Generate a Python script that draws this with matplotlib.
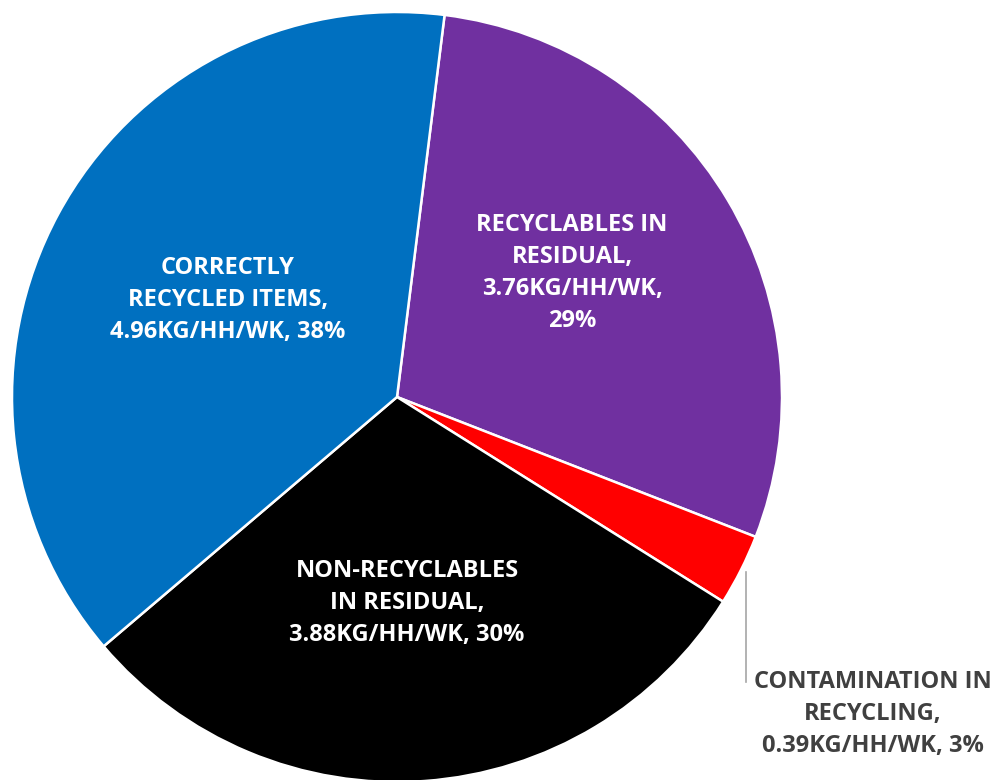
import matplotlib
matplotlib.use("Agg")
from matplotlib import pyplot as plt

# Waste composition, kg per household per week
categories = ["RECYCLABLES IN\nRESIDUAL,", "CONTAMINATION IN\nRECYCLING,",
              "NON-RECYCLABLES\nIN RESIDUAL,", "CORRECTLY\nRECYCLED ITEMS,"]
kg_values = [3.76, 0.39, 3.88, 4.96]
percents = [29, 3, 30, 38]
colors = ["#7030A0", "#FF0000", "#000000", "#0070C0"]

plt.rcParams['font.family'] = ['Open Sans', 'DejaVu Sans']

fig = plt.figure(figsize=(9.97, 7.8), dpi=100)
ax = fig.add_axes([0, 0, 1, 1])

# work in pixel units so the pie sits where the reference has it
cx, cy, r = 397, 780 - 397, 385
wedges, _ = ax.pie(kg_values, colors=colors, startangle=82.9, counterclock=False,
                   center=(cx, cy), radius=r, frame=True,
                   wedgeprops=dict(edgecolor='white', linewidth=1.8))
ax.set_xlim(0, 997)
ax.set_ylim(0, 780)
ax.set_aspect('auto')
ax.axis('off')

labels = [
    "RECYCLABLES IN\nRESIDUAL,\n%.2fKG/HH/WK,\n%d%%" % (kg_values[0], percents[0]),
    "CONTAMINATION IN\nRECYCLING,\n%.2fKG/HH/WK, %d%%" % (kg_values[1], percents[1]),
    "NON-RECYCLABLES\nIN RESIDUAL,\n%.2fKG/HH/WK, %d%%" % (kg_values[2], percents[2]),
    "CORRECTLY\nRECYCLED ITEMS,\n%.2fKG/HH/WK, %d%%" % (kg_values[3], percents[3]),
]
label_pos = [(572, 780 - 273), (873, 780 - 714), (407, 780 - 603), (228, 780 - 300)]
label_colors = ['white', '#404040', 'white', 'white']

for text, (x, y), c in zip(labels, label_pos, label_colors):
    ax.text(x, y, text, ha='center', va='center', color=c, fontsize=17,
            fontweight='bold', linespacing=1.45)

# leader line for the small red slice
ax.plot([746, 746], [780 - 572, 780 - 682], color='#A6A6A6', linewidth=1.2)

fig.savefig("out.png", dpi=100)
